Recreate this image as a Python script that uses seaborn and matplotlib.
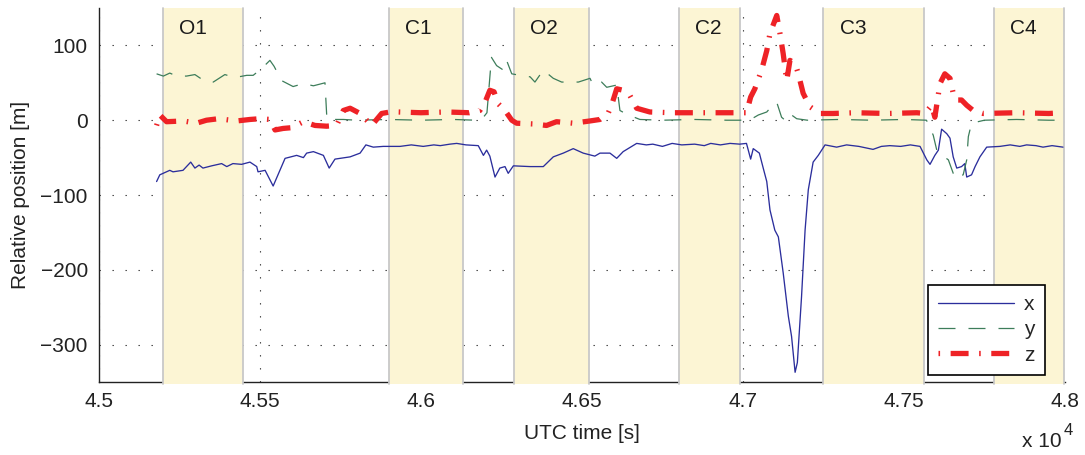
import matplotlib
matplotlib.use("Agg")
import matplotlib.pyplot as plt
from matplotlib.ticker import FuncFormatter, FixedLocator
import seaborn as sns

sns.set_style("white")
plt.rcParams["font.family"] = ["Liberation Sans", "DejaVu Sans"]
plt.rcParams["mathtext.default"] = "regular"
plt.rcParams["axes.unicode_minus"] = True

# ---- relative position components (UTC seconds, metres) ----
t_x = [45179, 45189, 45220, 45230, 45261, 45285, 45298, 45311, 45323, 45350,
       45381, 45397, 45416, 45443, 45469, 45490, 45494, 45516, 45541, 45578,
       45614, 45635, 45645, 45666, 45697, 45715, 45733, 45780, 45811, 45829,
       45852, 45883, 45935, 45970, 46007, 46040, 46060, 46090, 46111, 46140,
       46178, 46194, 46204, 46214, 46230, 46245, 46261, 46271, 46287, 46339,
       46380, 46411, 46442, 46473, 46504, 46540, 46556, 46587, 46608, 46628,
       46670, 46700, 46720, 46750, 46780, 46810, 46850, 46880, 46900, 46930,
       46960, 46990, 47011, 47024, 47032, 47051, 47063, 47074, 47084, 47099,
       47110, 47125, 47141, 47151, 47162, 47169, 47182, 47193, 47203, 47218,
       47234, 47255, 47291, 47322, 47360, 47404, 47430, 47456, 47490, 47520,
       47550, 47571, 47581, 47596, 47607, 47617, 47633, 47643, 47653, 47664,
       47679, 47689, 47695, 47710, 47721, 47736, 47757, 47798, 47830, 47860,
       47881, 47910, 47932, 47960, 47994]
pos_x = [-82, -73, -67, -69, -67, -56, -64, -60, -64, -61,
         -58, -62, -58, -59, -56, -62, -69, -67, -88, -51,
         -47, -50, -44, -42, -47, -64, -52, -49, -44, -33,
         -36, -35, -35, -33, -35, -33, -34, -32, -31, -33,
         -34, -47, -40, -48, -76, -64, -62, -71, -61, -62,
         -62, -49, -44, -38, -44, -48, -44, -44, -51, -42,
         -31, -33, -32, -35, -31, -33, -32, -34, -31, -33,
         -31, -32, -31, -52, -38, -44, -64, -82, -120, -147,
         -156, -204, -262, -289, -337, -324, -236, -147, -93, -56,
         -47, -33, -36, -33, -35, -39, -35, -34, -35, -33,
         -35, -53, -59, -47, -40, -12, -18, -24, -49, -64,
         -62, -58, -76, -73, -62, -49, -36, -35, -33, -35,
         -33, -34, -36, -34, -36]

t_y = [45179, 45200, 45220, 45241, 45272, 45298, 45329, 45355, 45391, 45422,
       45459, 45479, 45505, 45531, 45544, 45567, 45603, 45635, 45666, 45702,
       45708, 45759, 45800, 45900, 46000, 46100, 46170, 46194, 46205, 46219,
       46235, 46256, 46266, 46282, 46308, 46339, 46354, 46380, 46411, 46437,
       46489, 46525, 46535, 46561, 46577, 46608, 46618, 46639, 46680, 46750,
       46850, 46950, 47020, 47048, 47074, 47084, 47105, 47120, 47136, 47151,
       47167, 47200, 47300, 47400, 47500, 47570, 47591, 47602, 47622, 47638,
       47659, 47674, 47684, 47695, 47700, 47710, 47750, 47850, 47950, 47994]
pos_y = [62, 59, 63, 59, 59, 61, 52, 51, 61, 57,
         60, 60, 69, 80, 72, 53, 45, 49, 46, 50,
         1, 1, 0, 1, 0, 1, 0, 4, 10, 84,
         73, 67, 80, 62, 60, 58, 51, 67, 56, 51,
         51, 56, 47, 51, 44, 47, 13, 8, 1, 0,
         1, 0, 0, 7, 11, 16, 24, 4, -2, 7,
         2, 0, 1, 0, 1, 0, -20, -40, -48, -53,
         -78, -75, -73, -53, -22, -4, 0, 1, 0, 0]

t_z = [45179, 45189, 45210, 45262, 45303, 45334, 45371, 45428, 45469, 45500,
       45531, 45547, 45572, 45598, 45635, 45671, 45707, 45738, 45759, 45780,
       45811, 45847, 45878, 45904, 45930, 46000, 46080, 46150, 46183, 46199,
       46214, 46227, 46240, 46261, 46282, 46297, 46349, 46390, 46421, 46473,
       46525, 46556, 46582, 46592, 46608, 46628, 46649, 46670, 46711, 46780,
       46880, 46980, 47011, 47024, 47037, 47058, 47074, 47084, 47105, 47115,
       47125, 47136, 47146, 47162, 47172, 47187, 47208, 47239, 47280, 47350,
       47450, 47540, 47565, 47586, 47596, 47612, 47627, 47643, 47653, 47664,
       47679, 47695, 47715, 47746, 47850, 47950, 47994]
pos_z = [-7, 7, -2, -1, -4, 0, 2, -1, 1, 2,
         1, -13, -11, -10, -2, -7, -8, -7, 13, 16,
         9, -7, 9, 11, 11, 10, 11, 10, 13, 24,
         40, 38, 22, 13, 0, -4, -5, -7, -2, -4,
         -1, 1, 10, 20, 42, 40, 33, 16, 11, 10,
         10, 10, 10, 31, 42, 67, 93, 116, 140, 116,
         89, 53, 80, 76, 62, 36, 18, 9, 9, 10,
         9, 10, 9, 20, 4, 49, 62, 56, 36, 27,
         27, 20, 13, 9, 10, 9, 10]

# ---- observation / calibration windows ----
band_start = [45200, 45900, 46290, 46800, 47250, 47780]
band_end = [45448, 46132, 46522, 46991, 47562, 47997]
band_names = ["O1", "C1", "O2", "C2", "C3", "C4"]

x_ticks = [45000, 45500, 46000, 46500, 47000, 47500, 48000]
y_ticks = [-300, -200, -100, 0, 100]

fig = plt.figure(figsize=(10.85, 4.55), dpi=100)
ax = fig.add_axes([0.0912, 0.1604, 0.8903, 0.8220])
ax.set_xlim(45000, 48000)
ax.set_ylim(-350, 150)
ax.set_axisbelow(True)

band_fill = "#fcf5d4"
band_edge = "#c8c8c8"
for s, e, name in zip(band_start, band_end, band_names):
    ax.axvspan(s, e, ymin=-0.006, ymax=1.0, facecolor=band_fill,
               edgecolor="none", zorder=1, clip_on=False)
    for edge in (s, e):
        ax.axvline(edge, ymin=-0.006, ymax=1.0, color=band_edge, lw=1.3,
                   zorder=1.1, clip_on=False)
    ax.text(s + 50, 123, name, ha="left", va="center", fontsize=15,
            color="#1a1a1a", zorder=3)

sns.lineplot(x=t_x, y=pos_x, ax=ax, color="#2b2e9c", linewidth=0.95,
             estimator=None, sort=False, label="x", zorder=3)
sns.lineplot(x=t_y, y=pos_y, ax=ax, color="#3d7d5a", linewidth=0.9,
             linestyle=(0, (13.6, 10.4)), estimator=None, sort=False,
             label="y", zorder=3)
sns.lineplot(x=t_z, y=pos_z, ax=ax, color="#ee2226", linewidth=3.8,
             linestyle=(0, (0.3, 2.0, 3.4, 2.0)), estimator=None, sort=False,
             label="z", zorder=4)

ax.xaxis.set_major_locator(FixedLocator(x_ticks))
ax.yaxis.set_major_locator(FixedLocator(y_ticks))
ax.xaxis.set_major_formatter(FuncFormatter(lambda v, p: f"{v / 1e4:g}"))
ax.grid(True, color="#333333", linestyle=(0, (1.2, 10.5)), linewidth=0.8)
ax.tick_params(direction="in", length=4.5, width=0.9, color="#222222",
               labelsize=15, labelcolor="#222222")
ax.tick_params(axis="y", pad=8)
ax.tick_params(axis="x", pad=7)

for side in ("top", "right"):
    ax.spines[side].set_visible(False)
for side in ("left", "bottom"):
    ax.spines[side].set_color("#222222")
    ax.spines[side].set_linewidth(1.0)
ax.spines["bottom"].set_zorder(0.8)

ax.set_xlabel("UTC time [s]", fontsize=15, color="#222222")
ax.set_ylabel("Relative position [m]", fontsize=15, color="#222222")
ax.xaxis.set_label_coords(0.5, -0.112)
ax.yaxis.set_label_coords(-0.071, 0.5)
ax.text(0.997, -0.16, "x 10", transform=ax.transAxes, ha="right",
        va="center", fontsize=15, color="#222222")
ax.text(0.9985, -0.13, "4", transform=ax.transAxes, ha="left",
        va="center", fontsize=12, color="#222222")

leg = ax.legend(loc="lower right", bbox_to_anchor=(0.979, 0.0187),
                borderaxespad=0, frameon=True, fancybox=False,
                edgecolor="black", framealpha=1, fontsize=15,
                handlelength=3.65, handletextpad=0.45, labelspacing=0.3,
                borderpad=0.5)
leg.get_frame().set_linewidth(1.2)
leg.set_zorder(10)

fig.savefig("out.png", dpi=100)
